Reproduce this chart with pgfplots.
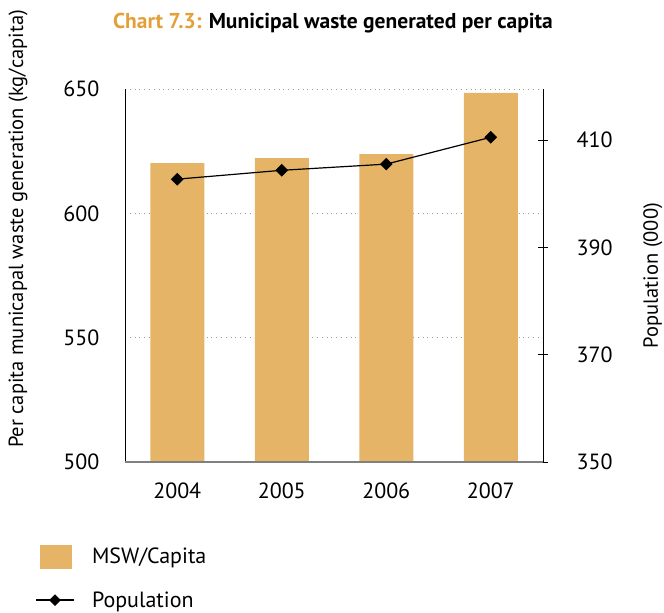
\documentclass[border=0pt]{standalone}
\usepackage{fontspec}
\setmainfont{PT Sans}
\usepackage{pgfplots}
\pgfplotsset{compat=1.18}
\definecolor{barc}{HTML}{E6B467}
\definecolor{titc}{HTML}{E3A03A}
\pgfplotsset{common/.style={at={(125pt,151pt)}, anchor=south west,
  scale only axis, width=418pt, height=373pt, xmin=-0.5, xmax=3.5}}
\begin{document}
\begin{tikzpicture}[x=1pt,y=1pt,font=\fontsize{22}{26}\selectfont]
\useasboundingbox (0,0) rectangle (664,613);
\node[anchor=center] at (333,590) {\fontsize{21.5}{25}\selectfont\bfseries{\color{titc}Chart 7.3:} Municipal waste generated per capita};
% axis 1: left axis, grid, labels, legend
\begin{axis}[
  common, ymin=500, ymax=650,
  axis x line*=bottom, axis y line*=left,
  x axis line style={draw=gray, line width=1.3pt, -},
  y axis line style={draw=black, line width=0.8pt, -},
  xtick={0,1,2,3}, xticklabels={2004,2005,2006,2007},
  xtick style={draw=none},
  xticklabel style={yshift=-17pt},
  extra x ticks={-0.5,0.5,1.5,2.5,3.5},
  extra x tick labels={},
  extra x tick style={tick align=outside, major tick length=9pt, tick style={draw=darkgray, line width=0.8pt}, grid=none},
  ytick={500,550,600,650},
  ytick style={draw=none},
  yticklabel style={xshift=-22pt},
  /pgf/number format/assume math mode=true,
  ymajorgrids,
  grid style={dash pattern=on 0.8pt off 4pt, gray!80, line width=0.8pt},
  ylabel={\fontsize{20.5}{24}\selectfont Per capita municapal waste generation (kg/capita)},
  ylabel style={at={(axis description cs:-0.256,0.625)}, anchor=center},
  legend style={at={(axis description cs:-0.222,-0.217)}, anchor=north west, draw=none, fill=none, row sep=21pt,
    font=\fontsize{22}{26}\selectfont},
  legend cell align=left,
]
\addlegendimage{legend image code/.code={\path[draw=none, fill=none] (0pt,0pt) -- (54pt,0pt); \fill[barc] (4pt,-11.5pt) rectangle (35pt,11.5pt);}}
\addlegendentry{MSW/Capita}
\addlegendimage{legend image code/.code={\path[draw=none, fill=none] (0pt,0pt) -- (54pt,0pt); \draw[black, line width=1.2pt] (0pt,0pt) -- (38pt,0pt); \fill[black, rotate around={45:(19pt,0pt)}] (15.1pt,-3.9pt) rectangle (22.9pt,3.9pt);}}
\addlegendentry{Population}
\end{axis}
% axis 2: bars
\begin{axis}[common, ymin=500, ymax=650, hide axis]
\addplot[ybar, bar width=54pt, fill=barc, draw=none]
  coordinates {(0,620.2) (1,622.2) (2,623.8) (3,648.4)};
\end{axis}
% axis 3: population, right axis
\begin{axis}[
  common, ymin=350, ymax=419.5,
  axis x line*=bottom, xtick=\empty,
  x axis line style={draw=gray, line width=1.3pt, -},
  axis y line*=right,
  y axis line style={draw=black, line width=0.8pt, -},
  ytick={350,370,390,410},
  tick align=center, major tick length=10pt,
  ytick style={draw=black, line width=0.8pt},
  yticklabel style={xshift=25pt},
  /pgf/number format/assume math mode=true,
  ylabel={\fontsize{20.5}{24}\selectfont Population (000)},
  ylabel style={at={(axis description cs:1.263,0.5)}, anchor=center},
]
\addplot[black, line width=1.2pt, mark=square*, mark size=3.9pt, mark options={rotate=45, solid}]
  coordinates {(0,402.7) (1,404.35) (2,405.5) (3,410.5)};
\end{axis}
\end{tikzpicture}
\end{document}
